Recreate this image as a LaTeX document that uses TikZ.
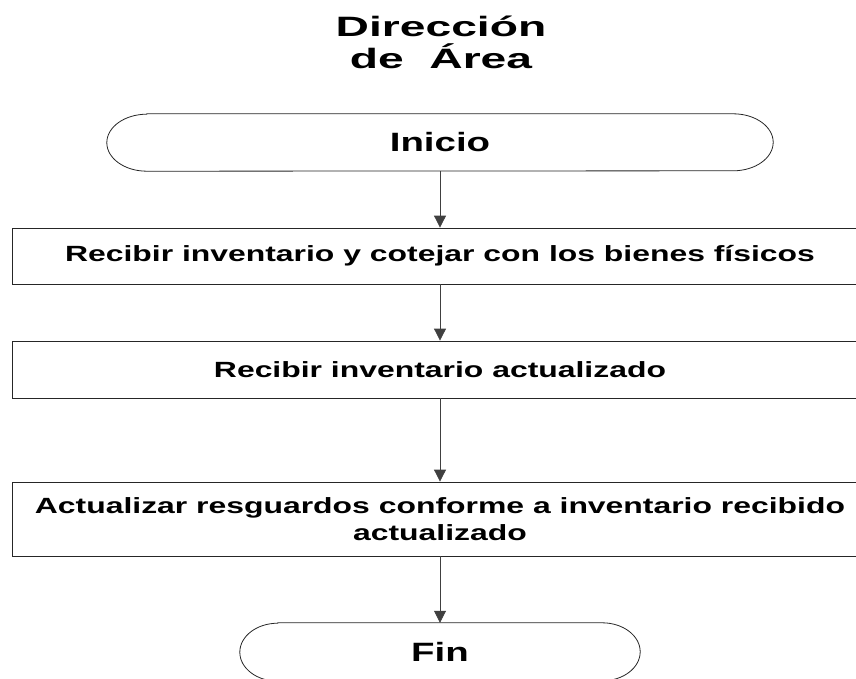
\documentclass[tikz,border=0pt]{standalone}
\usepackage{fontspec}
\setmainfont{Liberation Sans}
\newfontfamily\boxfont[FakeStretch=1.45]{Liberation Sans}
\newfontfamily\titlefont[FakeStretch=1.65]{Liberation Sans}
\usetikzlibrary{arrows.meta}

\tikzset{
  task/.style={draw=black!85, line width=0.8pt, minimum width=856pt, inner sep=0pt,
    align=center, font=\boxfont\bfseries\fontsize{22}{27}\selectfont},
  terminal/.style={inner sep=0pt, font=\boxfont\bfseries\fontsize{26.5}{30}\selectfont},
  termline/.style={draw=black!85, line width=0.8pt},
  flow/.style={-{Triangle[width=12pt,length=12pt]}, line width=0.8pt, draw=black!75},
}

\begin{document}
\begin{tikzpicture}[x=1pt, y=-1pt]
    \useasboundingbox (0,0) rectangle (856,679);
    \clip (0,0) rectangle (856,679);
    \node[align=center, inner sep=0pt, font=\titlefont\bfseries\fontsize{28}{32}\selectfont] (tit) at (441, 42) {Dirección\\de\ \ Área};
    % start and end
    \node[terminal, minimum width=666pt, minimum height=57pt] (ini) at (440, 142.5) {Inicio};
    \draw[termline] ([xshift=40pt]ini.north west) -- ([xshift=-40pt]ini.north east)
        arc[start angle=90, end angle=-90, x radius=40pt, y radius=28.5pt]
        -- ([xshift=40pt]ini.south west)
        arc[start angle=270, end angle=90, x radius=40pt, y radius=28.5pt] -- cycle;
    \node[terminal, minimum width=400pt, minimum height=58pt] (fin) at (440, 652) {Fin};
    \draw[termline] ([xshift=38pt]fin.north west) -- ([xshift=-38pt]fin.north east)
        arc[start angle=90, end angle=-90, x radius=38pt, y radius=29pt]
        -- ([xshift=38pt]fin.south west)
        arc[start angle=270, end angle=90, x radius=38pt, y radius=29pt] -- cycle;
    % steps
    \node[task, minimum height=56pt] (rec) at (440, 256) {Recibir inventario y cotejar con los bienes físicos};
    \node[task, minimum height=57pt] (act) at (440, 369.5) {Recibir inventario actualizado};
    \node[task, minimum height=74pt] (res) at (440, 519) {Actualizar resguardos conforme a inventario recibido\\actualizado};
    \draw[flow] (ini) -- (rec);
    \draw[flow] (rec) -- (act);
    \draw[flow] (act) -- (res);
    \draw[flow] (res) -- (fin);
\end{tikzpicture}
\end{document}
